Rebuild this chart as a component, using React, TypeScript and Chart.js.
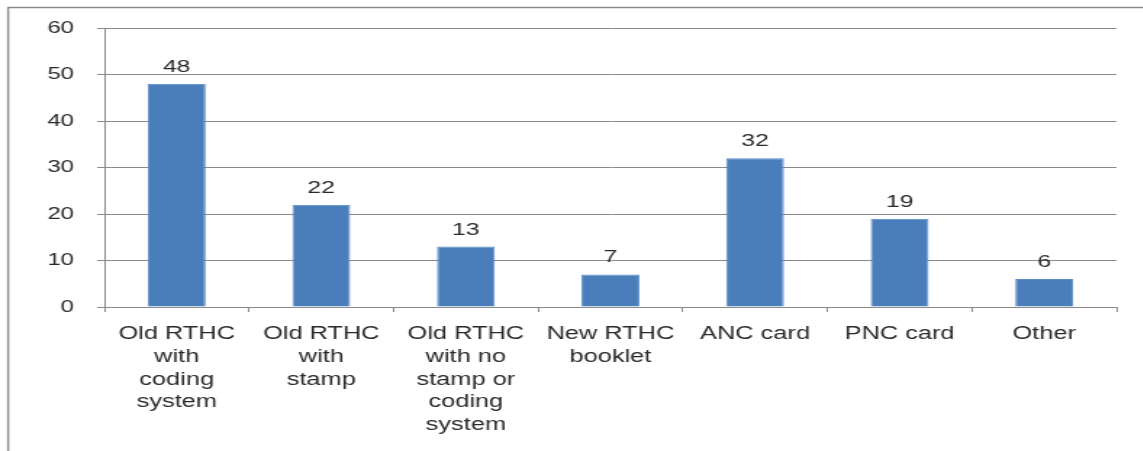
import React, { useEffect, useRef } from "react";
import { Chart, registerables } from "chart.js";

Chart.register(...registerables);

const categories: string[][] = [
  ["Old RTHC", "with", "coding", "system"],
  ["Old RTHC", "with", "stamp"],
  ["Old RTHC", "with no", "stamp or", "coding", "system"],
  ["New RTHC", "booklet"],
  ["ANC card"],
  ["PNC card"],
  ["Other"],
];
const values: number[] = [48, 22, 13, 7, 32, 19, 6];
const yMin = 0;
const yMax = 60;
const yStep = 10;

const SX = 1.45;
const W = 788;
const H = 451;
const FONT = "'Liberation Sans', Arial, sans-serif";

const framePlugin = {
  id: "frame",
  beforeDraw(chart: any) {
    const ctx = chart.ctx;
    ctx.save();
    ctx.fillStyle = "#ffffff";
    ctx.fillRect(0, 0, chart.width, chart.height);
    ctx.strokeStyle = "#8a8a8a";
    ctx.lineWidth = 1.4;
    ctx.beginPath();
    ctx.moveTo(5.6, chart.height);
    ctx.lineTo(5.6, 7.5);
    ctx.stroke();
    ctx.lineWidth = 1.5;
    ctx.beginPath();
    ctx.moveTo(5, 7.5);
    ctx.lineTo(chart.width, 7.5);
    ctx.stroke();
    ctx.restore();
  },
};

const labelPlugin = {
  id: "valueLabels",
  afterDatasetsDraw(chart: any) {
    const ctx = chart.ctx;
    const meta = chart.getDatasetMeta(0);
    ctx.save();
    ctx.font = `17px ${FONT}`;
    ctx.fillStyle = "#2a2a2a";
    ctx.textAlign = "center";
    ctx.textBaseline = "alphabetic";
    meta.data.forEach((bar: any, i: number) => {
      ctx.fillText(String(chart.data.datasets[0].data[i]), bar.x, bar.y - 12);
    });
    ctx.restore();
  },
};

export default function App() {
  const ref = useRef<HTMLCanvasElement>(null);
  useEffect(() => {
    document.body.style.margin = "0";
    const canvas = ref.current;
    if (!canvas) return;
    const chart = new Chart(canvas, {
      type: "bar",
      data: {
        labels: categories,
        datasets: [
          {
            data: values,
            backgroundColor: "#4A7EBB",
            borderColor: "#5B8CC6",
            borderWidth: 1,
            barPercentage: 0.4,
            categoryPercentage: 1,
          },
        ],
      },
      options: {
        animation: false,
        responsive: false,
        devicePixelRatio: 1,
        layout: { padding: { left: 0, right: 18, top: 28, bottom: 0 } },
        plugins: { legend: { display: false }, tooltip: { enabled: false } },
        scales: {
          x: {
            grid: {
              display: true,
              drawOnChartArea: false,
              drawTicks: true,
              tickLength: 5,
              color: "#8a8a8a",
              offset: true,
            },
            border: { display: true, color: "#8a8a8a" },
            ticks: {
              maxRotation: 0,
              autoSkip: false,
              padding: 11,
              color: "#2a2a2a",
              font: { family: FONT, size: 17.5, lineHeight: 1.3 },
            },
            afterFit(scale: any) {
              scale.height = H - 307;
            },
          },
          y: {
            min: yMin,
            max: yMax,
            grid: {
              color: "#8a8a8a",
              tickLength: 5,
              drawTicks: true,
            },
            border: { display: true, color: "#8a8a8a" },
            ticks: {
              stepSize: yStep,
              padding: 16,
              color: "#2a2a2a",
              font: { family: FONT, size: 16.5 },
            },
            afterFit(scale: any) {
              scale.width = 72;
            },
          },
        },
      },
      plugins: [framePlugin, labelPlugin],
    });
    return () => chart.destroy();
  }, []);
  return (
    <div
      style={{
        width: W,
        height: H,
        transform: `scaleX(${SX})`,
        transformOrigin: "left top",
      }}
    >
      <canvas ref={ref} width={W} height={H} style={{ width: W, height: H, display: "block" }} />
    </div>
  );
}
